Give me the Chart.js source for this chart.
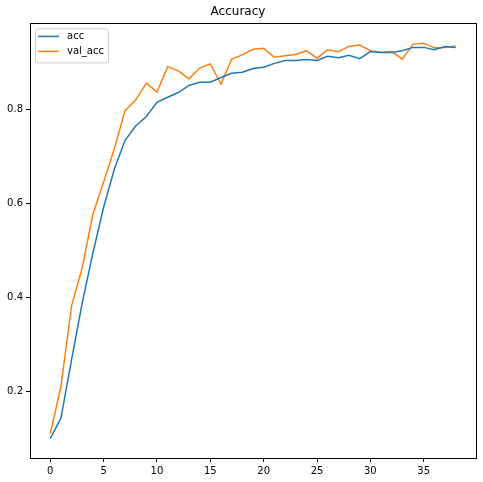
<!DOCTYPE html>
<html lang="en">
<head>
    <meta charset="UTF-8">
    <title>Accuracy</title>
    <script src="https://cdn.jsdelivr.net/npm/chart.js"></script>
    <style>
        body { margin: 0; background: #fff; }
        #wrap { width: 483px; height: 482px; }
    </style>
</head>
<body>
<div id="wrap"><canvas id="accChart" width="483" height="482"></canvas></div>

<script>
    // values
    const epochs = [0, 1, 2, 3, 4, 5, 6, 7, 8, 9, 10, 11, 12, 13, 14, 15, 16, 17, 18, 19,
                    20, 21, 22, 23, 24, 25, 26, 27, 28, 29, 30, 31, 32, 33, 34, 35, 36, 37, 38];
    const acc = [0.099, 0.143, 0.267, 0.389, 0.494, 0.591, 0.672, 0.733, 0.764, 0.784,
                 0.814, 0.825, 0.835, 0.850, 0.857, 0.857, 0.867, 0.876, 0.878, 0.886,
                 0.889, 0.897, 0.903, 0.903, 0.905, 0.903, 0.912, 0.909, 0.914, 0.907,
                 0.922, 0.920, 0.920, 0.924, 0.931, 0.931, 0.926, 0.933, 0.931];
    const valAcc = [0.110, 0.210, 0.382, 0.463, 0.577, 0.645, 0.715, 0.796, 0.819, 0.855,
                    0.836, 0.890, 0.881, 0.864, 0.887, 0.896, 0.853, 0.906, 0.915, 0.927,
                    0.929, 0.910, 0.913, 0.916, 0.924, 0.908, 0.926, 0.922, 0.933, 0.936,
                    0.924, 0.920, 0.922, 0.906, 0.938, 0.940, 0.930, 0.931, 0.934];
    const xTicks = [0, 5, 10, 15, 20, 25, 30, 35];
    const yTicks = [0.2, 0.4, 0.6, 0.8];

    const BLUE = '#1f77b4';
    const ORANGE = '#ff7f0e';
    const FONT = 'DejaVu Sans';

    // axes frame + legend box inside the plot, matplotlib style
    const framePlugin = {
        id: 'frame',
        afterDraw(chart) {
            const c = chart.ctx, a = chart.chartArea;
            c.save();
            c.strokeStyle = '#000';
            c.lineWidth = 1;
            c.strokeRect(Math.round(a.left) + 0.5, Math.round(a.top) + 0.5,
                         Math.round(a.right - a.left), Math.round(a.bottom - a.top));

            // legend
            const lx = a.left + 5, ly = a.top + 5, lw = 73, lh = 34;
            c.fillStyle = 'rgba(255,255,255,0.8)';
            c.strokeStyle = '#cccccc';
            c.beginPath();
            c.roundRect(lx + 0.5, ly + 0.5, lw, lh, 3);
            c.fill();
            c.stroke();
            const items = [['acc', BLUE], ['val_acc', ORANGE]];
            items.forEach((it, k) => {
                const yy = ly + 8 + k * 15;
                c.strokeStyle = it[1];
                c.lineWidth = 1.5;
                c.beginPath();
                c.moveTo(lx + 3, yy);
                c.lineTo(lx + 24, yy);
                c.stroke();
                c.fillStyle = '#000';
                c.font = '10px "' + FONT + '"';
                c.textBaseline = 'middle';
                c.fillText(it[0], lx + 32, yy);
            });
            c.restore();
        }
    };

    const ctx = document.getElementById('accChart').getContext('2d');
    const accChart = new Chart(ctx, {
        type: 'line',
        data: {
            datasets: [{
                label: 'acc',
                data: epochs.map((e, i) => ({ x: e, y: acc[i] })),
                borderColor: BLUE,
                borderWidth: 1.5,
                pointRadius: 0,
                tension: 0
            }, {
                label: 'val_acc',
                data: epochs.map((e, i) => ({ x: e, y: valAcc[i] })),
                borderColor: ORANGE,
                borderWidth: 1.5,
                pointRadius: 0,
                tension: 0
            }]
        },
        options: {
            responsive: false,
            animation: false,
            layout: { padding: { left: 0, right: 7, top: 0, bottom: 0 } },
            plugins: {
                legend: { display: false },
                tooltip: { enabled: false },
                title: {
                    display: true,
                    text: 'Accuracy',
                    color: '#000',
                    font: { family: FONT, size: 12, weight: 'normal' },
                    padding: { top: 5, bottom: 4 }
                }
            },
            scales: {
                x: {
                    type: 'linear',
                    min: -1.9,
                    max: 39.9,
                    afterBuildTicks: s => { s.ticks = xTicks.map(v => ({ value: v })); },
                    afterFit: s => { s.height = 24; },
                    grid: { drawOnChartArea: false, drawTicks: true, tickLength: 4, color: '#000' },
                    border: { display: false },
                    ticks: { color: '#000', padding: 3, maxRotation: 0, font: { family: FONT, size: 10 } }
                },
                y: {
                    type: 'linear',
                    min: 0.058,
                    max: 0.982,
                    afterBuildTicks: s => { s.ticks = yTicks.map(v => ({ value: v })); },
                    afterFit: s => { s.width = 30; },
                    grid: { drawOnChartArea: false, drawTicks: true, tickLength: 4, color: '#000' },
                    border: { display: false },
                    ticks: {
                        color: '#000', padding: 3,
                        font: { family: FONT, size: 10 },
                        callback: v => v.toFixed(1)
                    }
                }
            }
        },
        plugins: [framePlugin]
    });
</script>
</body>
</html>
